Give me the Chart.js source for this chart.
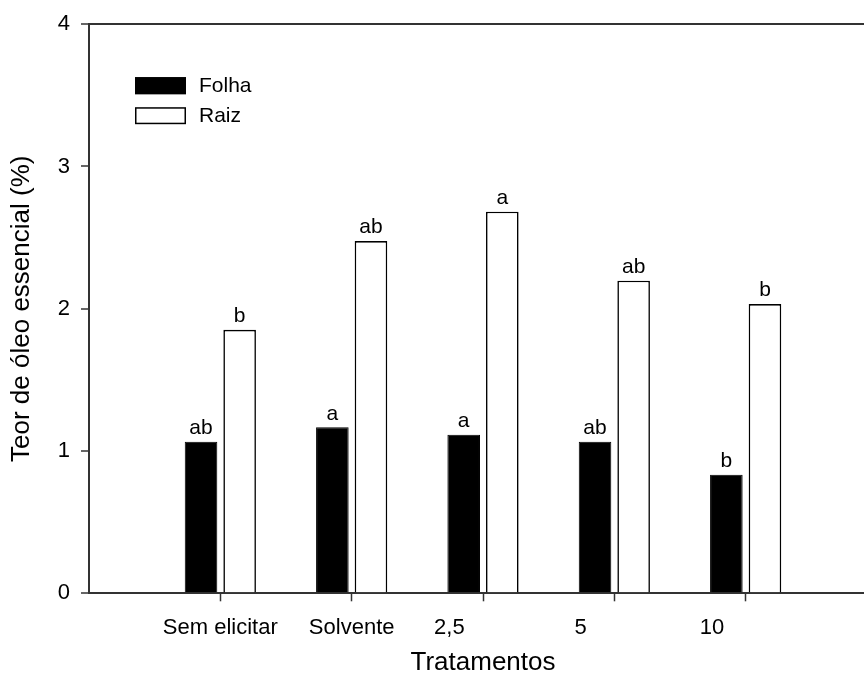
<!DOCTYPE html>
<html>
<head>
<meta charset="utf-8">
<script src="https://cdn.jsdelivr.net/npm/chart.js@4"></script>
<style>
  html, body { margin: 0; padding: 0; background: #fff; }
  #wrap { width: 864px; height: 683px; overflow: hidden; }
  canvas { display: block; }
</style>
</head>
<body>
<div id="wrap"><canvas id="c" width="890" height="683"></canvas></div>
<script>
// Treatments and essential-oil content (%) in leaves (Folha) and roots (Raiz)
const categories = ['Sem elicitar', 'Solvente', '2,5', '5', '10'];
const folha = [1.065, 1.167, 1.115, 1.065, 0.833];
const raiz = [1.852, 2.476, 2.682, 2.197, 2.033];
const folhaLetters = ['ab', 'a', 'a', 'ab', 'b'];
const raizLetters = ['b', 'ab', 'a', 'ab', 'b'];
const yTicks = [0, 1, 2, 3, 4];

const FONT = "'Liberation Sans', Arial, sans-serif";
const AXIS = '#333333';

// one empty slot on each side keeps the treatments away from the frame
const labels = ['', ...categories, ''];
const pad = arr => [null, ...arr, null];

// dose labels (numbers) are set a little left of their tick marks
const tickText = s => /^[\d,]+$/.test(s) ? s + '\u00a0'.repeat(11) : s;

// significance letters above each bar
const letterPlugin = {
  id: 'letters',
  afterDatasetsDraw(chart) {
    const ctx = chart.ctx;
    const sets = [folhaLetters, raizLetters];
    ctx.save();
    ctx.font = '21px ' + FONT;
    ctx.fillStyle = '#000';
    ctx.textAlign = 'center';
    ctx.textBaseline = 'bottom';
    chart.data.datasets.forEach((ds, di) => {
      const meta = chart.getDatasetMeta(di);
      meta.data.forEach((bar, i) => {
        if (ds.data[i] == null) return;
        ctx.fillText(sets[di][i - 1], bar.x, bar.y - 3);
      });
    });
    ctx.restore();
  }
};

// legend inside the plot, upper left
const legendPlugin = {
  id: 'innerLegend',
  afterDraw(chart) {
    const ctx = chart.ctx;
    const a = chart.chartArea;
    ctx.save();
    ctx.font = '21px ' + FONT;
    ctx.textBaseline = 'middle';
    chart.data.datasets.forEach((ds, i) => {
      const x = a.left + 46;
      const y = a.top + 53 + i * 30;
      ctx.fillStyle = ds.backgroundColor;
      ctx.fillRect(x, y, 51, 17);
      ctx.strokeStyle = '#000';
      ctx.lineWidth = 1.5;
      ctx.strokeRect(x + 0.75, y + 0.75, 49.5, 15.5);
      ctx.fillStyle = '#000';
      ctx.fillText(ds.label, x + 64, y + 9);
    });
    ctx.restore();
  }
};

const chart = new Chart(document.getElementById('c'), {
  type: 'bar',
  data: {
    labels: labels,
    datasets: [
      {
        label: 'Folha',
        data: pad(folha),
        backgroundColor: '#000000',
        borderColor: '#000000',
        borderWidth: 1,
        categoryPercentage: 0.588,
        barPercentage: 0.844
      },
      {
        label: 'Raiz',
        data: pad(raiz),
        backgroundColor: '#ffffff',
        borderColor: '#000000',
        borderWidth: 1.6,
        categoryPercentage: 0.588,
        barPercentage: 0.844
      }
    ]
  },
  options: {
    responsive: false,
    animation: false,
    layout: { padding: { top: 24, right: 3.5, left: 0, bottom: 0 } },
    plugins: {
      legend: { display: false },
      tooltip: { enabled: false }
    },
    scales: {
      x: {
        offset: false,
        border: { color: AXIS, width: 2 },
        grid: {
          offset: false,
          drawOnChartArea: false,
          color: 'transparent',
          tickLength: 8,
          tickWidth: 1.5,
          tickColor: c => (c.index === 0 || c.index === labels.length - 1) ? 'transparent' : AXIS
        },
        ticks: {
          color: '#000',
          font: { family: FONT, size: 22 },
          padding: 13,
          maxRotation: 0,
          autoSkip: false,
          callback: (v, i) => tickText(labels[i])
        },
        title: {
          display: true,
          text: 'Tratamentos',
          color: '#000',
          font: { family: FONT, size: 26 },
          padding: { top: 0, bottom: 5 }
        },
        afterFit: s => { s.height = 89.7; }
      },
      y: {
        min: 0,
        max: 4,
        afterBuildTicks: s => { s.ticks = yTicks.map(v => ({ value: v })); },
        border: { color: AXIS, width: 2 },
        grid: {
          color: c => (c.tick && c.tick.value === 4) ? AXIS : 'transparent',
          lineWidth: 2,
          tickLength: 8,
          tickWidth: 1.5,
          tickColor: AXIS
        },
        ticks: {
          color: '#000',
          font: { family: FONT, size: 22 },
          padding: 11
        },
        title: {
          display: true,
          text: 'Teor de óleo essencial (%)',
          color: '#000',
          font: { family: FONT, size: 26 },
          padding: { top: 6, bottom: 0 }
        },
        afterFit: s => { s.width = 89; }
      }
    }
  },
  plugins: [letterPlugin, legendPlugin]
});
</script>
</body>
</html>
